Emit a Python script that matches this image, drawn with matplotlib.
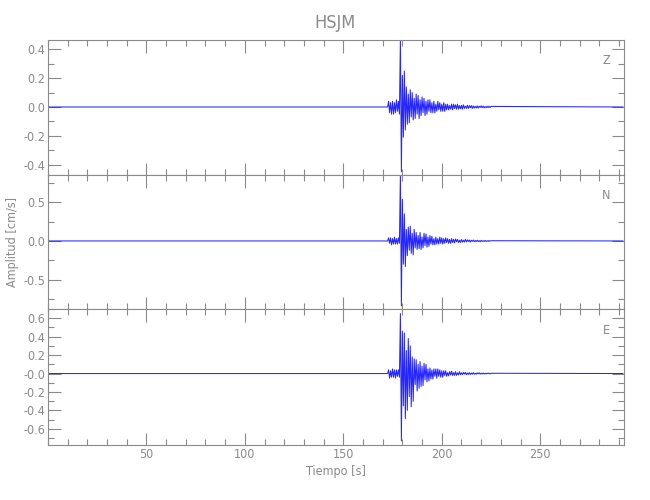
import matplotlib
matplotlib.use('Agg')
import matplotlib.pyplot as plt
import numpy as np

# station / component info
station = "HSJM"
components = ["Z", "N", "E"]

# trace sampling (event window)
t_start = 172.5
dt = 0.5
t_end_record = 292.0

# velocity samples [cm/s] for each component, 172.5 s .. 225.0 s
vel_z = [0.00,
         0.04, -0.04, 0.03, -0.05, 0.04, -0.05, 0.03, -0.04, 0.05, -0.03, 0.04, -0.05,
         0.47, -0.45, 0.22, -0.21, 0.25, -0.16, 0.14, -0.12, 0.09, -0.11, 0.12, -0.07, 0.10, -0.09,
         0.06, -0.08, 0.09, -0.05, 0.08, -0.08, 0.05, -0.06, 0.07, -0.04, 0.06, -0.06, 0.04, -0.05,
         0.05, -0.03, 0.05, -0.04, 0.03, -0.04, 0.04, -0.04, 0.02, -0.03,
         0.04, -0.02, 0.03, -0.03, 0.02, -0.03, 0.03, -0.03, 0.02, -0.02,
         0.02, -0.02, 0.01, -0.015, 0.02, -0.02, 0.02, -0.01, 0.015, -0.015,
         0.02, -0.015, 0.01, -0.012, 0.012, -0.015, 0.015, -0.01, 0.006, -0.01,
         0.012, -0.01, 0.01, -0.006, 0.01, -0.01, 0.008, -0.008, 0.005, -0.007,
         0.008, -0.008, 0.006, -0.004, 0.008, -0.005, 0.006, -0.006, 0.004, -0.005,
         0.005, -0.004, 0.005, -0.004, 0.004]

vel_n = [0.00,
         0.04, -0.03, 0.04, -0.05, 0.03, -0.04, 0.05, -0.04, 0.03, -0.04, 0.04, -0.03,
         0.87, -0.84, 0.54, -0.30, 0.35, -0.33, 0.15, -0.19, 0.18, -0.12, 0.19, -0.16, 0.10, -0.18, 0.15, -0.09,
         0.11, -0.11, 0.07, -0.10, 0.11, -0.11, 0.05, -0.09, 0.10, -0.06, 0.09, -0.08, 0.05, -0.07, 0.07, -0.04, 0.06, -0.05,
         0.03, -0.05, 0.05, -0.04, 0.03, -0.04, 0.05, -0.03, 0.04, -0.04,
         0.03, -0.03, 0.04, -0.02, 0.03, -0.03, 0.02, -0.03, 0.03, -0.02,
         0.02, -0.025, 0.025, -0.01, 0.02, -0.02, 0.01, -0.02, 0.02, -0.015,
         0.01, -0.015, 0.02, -0.012, 0.015, -0.008, 0.012, -0.015, 0.01, -0.006,
         0.012, -0.01, 0.006, -0.009, 0.01, -0.008, 0.005, -0.01, 0.008, -0.006,
         0.004, -0.006, 0.006, -0.006, 0.004, -0.005, 0.006, -0.004, 0.003]

vel_e = [0.00,
         0.04, -0.05, 0.03, -0.04, 0.05, -0.04, 0.04, -0.05, 0.04, -0.03, 0.04, -0.04,
         0.65, -0.73, 0.46, -0.35, 0.44, -0.49, 0.25, -0.40, 0.38, -0.25, 0.30, -0.36, 0.18, -0.30,
         0.16, -0.12, 0.15, -0.19, 0.10, -0.16, 0.13, -0.14, 0.08, -0.13, 0.11, -0.07, 0.10, -0.09, 0.05, -0.08,
         0.06, -0.06, 0.04, -0.06, 0.05, -0.03, 0.05, -0.05, 0.05,
         -0.03, 0.04, -0.04, 0.03, -0.04, 0.03, -0.02, 0.03, -0.03,
         0.01, -0.025, 0.02, -0.015, 0.025, -0.02, 0.01, -0.02, 0.02, -0.02,
         0.008, -0.015, 0.02, -0.012, 0.008, -0.012, 0.012, -0.006, 0.012, -0.012,
         0.006, -0.01, 0.01, -0.01, 0.006, -0.008, 0.01, -0.008, 0.004, -0.008,
         0.008, -0.004, 0.008, -0.006, 0.004, -0.005, 0.006, -0.005, 0.003, -0.005,
         0.005, -0.002, 0.005, -0.004, 0.003]

traces = [vel_z, vel_n, vel_e]

# axis ranges and tick labels (IDL style)
x_range = (0, 292.5)
y_ranges = [(-0.473, 0.466), (-0.88, 0.853), (-0.775, 0.70)]
y_ticks = [[0.4, 0.2, 0.0, -0.2, -0.4],
           [0.5, 0.0, -0.5],
           [0.6, 0.4, 0.2, 0.0, -0.2, -0.4, -0.6]]
y_ticklabels = [["0.4", "0.2", "0.0", "-0.2", "-0.4"],
                ["0.5", "0.0", "-0.5"],
                ["0.6", "0.4", "0.2", "-0.0", "-0.2", "-0.4", "-0.6"]]
y_minor = [0.1, 0.25, 0.1]
x_ticks = [50, 100, 150, 200, 250]

gray = "#8a8a8a"
plt.rcParams['font.family'] = ['DejaVu Sans']
plt.rcParams['font.stretch'] = 'condensed'
plt.rcParams['font.weight'] = 'light'

fig = plt.figure(figsize=(6.5, 5), dpi=100)
boxes = [[0.0738, 0.650, 0.886, 0.270],
         [0.0738, 0.382, 0.886, 0.268],
         [0.0738, 0.110, 0.886, 0.272]]

for i, (box, vel) in enumerate(zip(boxes, traces)):
    ax = fig.add_axes(box)
    t = t_start + dt * np.arange(len(vel))
    tt = np.concatenate([[0.0], t, [t_end_record]])
    vv = np.concatenate([[0.0], vel, [0.0]])
    ax.plot(tt, vv, color="#0000ff", lw=0.75, alpha=0.85)
    ax.set_xlim(*x_range)
    ax.set_ylim(*y_ranges[i])
    ax.set_yticks(y_ticks[i])
    ax.set_yticklabels(y_ticklabels[i])
    ax.yaxis.set_minor_locator(matplotlib.ticker.MultipleLocator(y_minor[i]))
    ax.set_xticks(x_ticks)
    ax.xaxis.set_minor_locator(matplotlib.ticker.MultipleLocator(10))
    if i < 2:
        ax.set_xticklabels([])
    ax.tick_params(which='both', direction='in', top=True, right=True,
                   color=gray, labelcolor=gray, labelsize=9, width=0.8, pad=2)
    ax.tick_params(which='major', length=9)
    ax.tick_params(which='minor', length=4.5)
    for s in ax.spines.values():
        s.set_color(gray)
        s.set_linewidth(0.8)
    ax.text(0.969, 0.845, components[i], transform=ax.transAxes,
            ha='center', va='center', color=gray, fontsize=9)

fig.text(0.516, 0.954, station, ha='center', va='center', color=gray, fontsize=13)
fig.text(0.02, 0.516, "Amplitud [cm/s]", rotation=90, ha='center', va='center',
         color=gray, fontsize=9)
fig.text(0.517, 0.058, "Tiempo [s]", ha='center', va='center', color=gray, fontsize=9)

fig.savefig("out.png", dpi=100)
